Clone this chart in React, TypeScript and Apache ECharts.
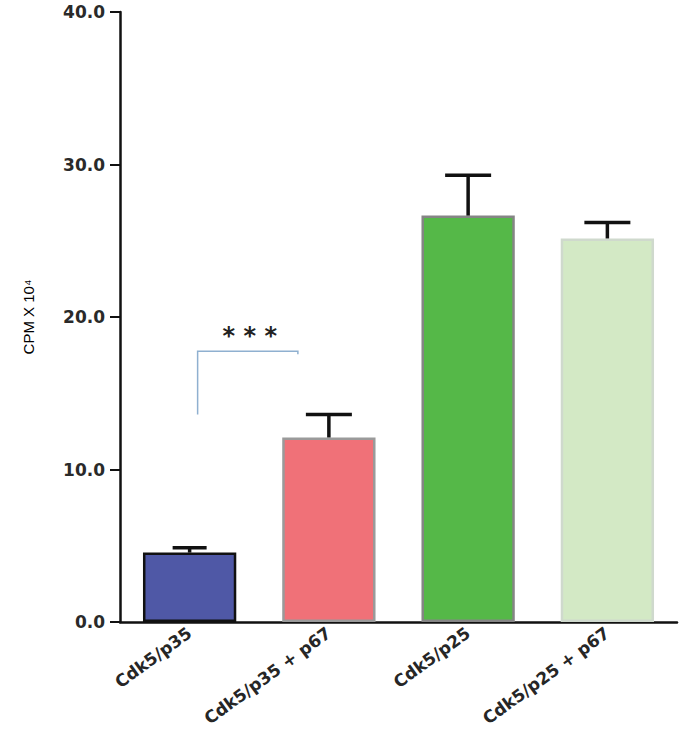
import React, { useEffect, useRef } from "react";
import * as echarts from "echarts";

const categories = ["Cdk5/p35", "Cdk5/p35 + p67", "Cdk5/p25", "Cdk5/p25 + p67"];
const means = [4.55, 12.1, 26.65, 25.15];
const errUpper = [4.87, 13.6, 29.3, 26.2];
const barColors = ["#4f58a6", "#f07178", "#55b848", "#d3e9c5"];
const borderColors = ["#111111", "#9a9a9a", "#858585", "#cfd9cd"];
const capHalf = [17, 23, 23, 23];
const yTicks = [0, 10, 20, 30, 40];
// significance bracket: between group 0 and 1
const bracketTop = 17.75;
const bracketBottom = 13.6;

export default function App() {
  const ref = useRef<HTMLDivElement>(null);
  useEffect(() => {
    if (!ref.current) return;
    const chart = echarts.init(ref.current, null, { renderer: "svg" });
    chart.setOption({
      animation: false,
      backgroundColor: "#ffffff",
      grid: { left: 120, right: 6, top: 12, bottom: 115, containLabel: false },
      xAxis: {
        type: "category",
        data: categories,
        axisLine: { lineStyle: { color: "#111", width: 2.5 } },
        axisTick: { alignWithLabel: true, length: 7, lineStyle: { color: "#111", width: 2 } },
        axisLabel: {
          rotate: 36,
          margin: 9,
          fontFamily: "DejaVu Sans, sans-serif",
          fontWeight: "bold",
          fontSize: 17,
          color: "#262626",
        },
      },
      yAxis: {
        type: "value",
        min: yTicks[0],
        max: yTicks[yTicks.length - 1],
        interval: 10,
        name: "CPM X 10⁴",
        nameLocation: "middle",
        nameRotate: 90,
        nameGap: 84,
        nameTextStyle: {
          fontFamily: "Liberation Sans, Arial, sans-serif",
          fontSize: 15,
          color: "#000",
        },
        splitLine: { show: false },
        axisLine: { show: true, lineStyle: { color: "#111", width: 2.5 } },
        axisTick: { show: true, length: 10, lineStyle: { color: "#111", width: 2 } },
        axisLabel: {
          margin: 15,
          formatter: (v: number) => v.toFixed(1),
          fontFamily: "DejaVu Sans, sans-serif",
          fontWeight: "bold",
          fontSize: 17,
          color: "#2a2a2a",
        },
      },
      series: [
        {
          type: "bar",
          barWidth: "67%",
          data: means.map((v, i) => ({
            value: v,
            itemStyle: {
              color: barColors[i],
              borderColor: borderColors[i],
              borderWidth: 2.5,
            },
          })),
          z: 2,
        },
        {
          type: "custom",
          z: 5,
          data: means.map((m, i) => [i, m, errUpper[i]]),
          renderItem: (params: any, api: any) => {
            const idx = api.value(0);
            const base = api.coord([idx, api.value(1)]);
            const top = api.coord([idx, api.value(2)]);
            const h = capHalf[params.dataIndex];
            return {
              type: "group",
              children: [
                {
                  type: "line",
                  shape: { x1: base[0], y1: base[1], x2: top[0], y2: top[1] },
                  style: { stroke: "#111", lineWidth: 3.5 },
                },
                {
                  type: "line",
                  shape: { x1: top[0] - h, y1: top[1], x2: top[0] + h, y2: top[1] },
                  style: { stroke: "#111", lineWidth: 3.5 },
                },
              ],
            };
          },
        },
        {
          type: "custom",
          z: 6,
          data: [[0, 1, bracketTop, bracketBottom]],
          renderItem: (params: any, api: any) => {
            const left = api.coord([api.value(0), api.value(2)]);
            const right = api.coord([api.value(1), api.value(2)]);
            const bottom = api.coord([api.value(0), api.value(3)]);
            const lx = left[0] + 8;
            const rx = right[0] - 31;
            return {
              type: "group",
              children: [
                {
                  type: "polyline",
                  shape: {
                    points: [
                      [lx, bottom[1]],
                      [lx, left[1]],
                      [rx, left[1]],
                      [rx, left[1] + 3],
                    ],
                  },
                  style: { stroke: "#8fb0d0", lineWidth: 1.5, fill: "none" },
                },
                {
                  type: "text",
                  style: {
                    text: "* * *",
                    x: (lx + rx) / 2 + 2,
                    y: left[1] - 3,
                    align: "center",
                    verticalAlign: "bottom",
                    font: "bold 24px 'DejaVu Sans', sans-serif",
                    fill: "#222",
                  },
                },
              ],
            };
          },
        },
      ],
    });
    return () => chart.dispose();
  }, []);
  return <div ref={ref} style={{ width: 683, height: 737, position: "absolute", left: 0, top: 0 }} />;
}
